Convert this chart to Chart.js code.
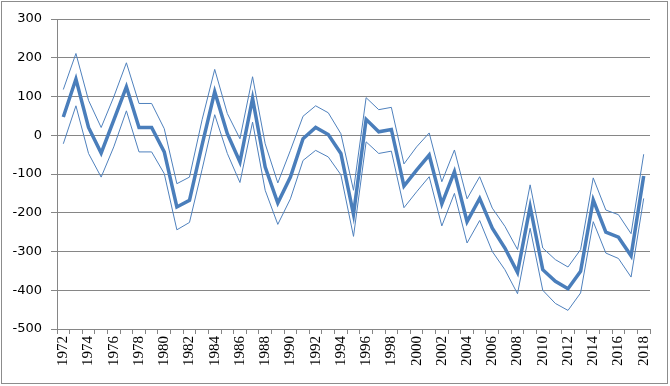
<!DOCTYPE html>
<html>
<head>
<meta charset="utf-8">
<script src="https://cdn.jsdelivr.net/npm/chart.js@4/dist/chart.umd.min.js"></script>
<style>
  html, body { margin: 0; padding: 0; background: #fff; }
  #wrap { width: 670px; height: 386px; position: relative; }
</style>
</head>
<body>
<div id="wrap"><canvas id="chart" width="670" height="386"></canvas></div>
<script>
// years on the x axis
var years = [1972, 1973, 1974, 1975, 1976, 1977, 1978, 1979, 1980, 1981,
             1982, 1983, 1984, 1985, 1986, 1987, 1988, 1989, 1990, 1991,
             1992, 1993, 1994, 1995, 1996, 1997, 1998, 1999, 2000, 2001,
             2002, 2003, 2004, 2005, 2006, 2007, 2008, 2009, 2010, 2011,
             2012, 2013, 2014, 2015, 2016, 2017, 2018];

// thick middle line
var mid = [47, 145, 20, -46, 39, 125, 20, 20, -43, -185,
           -168, -25, 112, 4, -69, 95, -82, -175, -108, -9,
           20, 2, -47, -204, 41, 9, 15, -131, -90, -51,
           -177, -94, -223, -163, -240, -291, -354, -184, -347, -377,
           -396, -351, -167, -250, -263, -311, -105];

// thin upper line
var upper = [118, 211, 90, 20, 99, 187, 82, 82, 17, -125,
             -108, 40, 170, 56, -9, 151, -22, -123, -39, 49,
             76, 58, 4, -142, 97, 66, 72, -74, -30, 6,
             -120, -38, -164, -107, -188, -235, -295, -128, -291, -321,
             -340, -295, -110, -193, -205, -254, -49];

// thin lower line
var lower = [-22, 76, -47, -108, -30, 63, -43, -43, -99, -244,
             -225, -88, 53, -47, -122, 34, -142, -230, -164, -65,
             -39, -56, -102, -261, -17, -47, -41, -187, -146, -107,
             -234, -150, -278, -220, -300, -347, -409, -240, -400, -434,
             -452, -407, -223, -304, -318, -366, -163];

var yTicks = [-500, -400, -300, -200, -100, 0, 100, 200, 300];

var gridGrey = '#868686';

// grey frame round the whole picture
var frame = {
  id: 'frame',
  afterDraw: function (c) {
    var ctx = c.ctx;
    ctx.save();
    ctx.strokeStyle = '#8c8c8c';
    ctx.lineWidth = 1;
    ctx.strokeRect(1.5, 1.5, 666, 382);
    ctx.restore();
  }
};

new Chart(document.getElementById('chart'), {
  type: 'line',
  data: {
    labels: years,
    datasets: [
      { data: upper, borderColor: '#4f81bd', borderWidth: 1, pointRadius: 0, tension: 0, fill: false },
      { data: lower, borderColor: '#4f81bd', borderWidth: 1, pointRadius: 0, tension: 0, fill: false },
      { data: mid, borderColor: '#4a7ebb', borderWidth: 3.5, pointRadius: 0, tension: 0, fill: false }
    ]
  },
  options: {
    responsive: false,
    animation: false,
    layout: { padding: { left: 0, top: 19, right: 20, bottom: 0 } },
    plugins: { legend: { display: false }, tooltip: { enabled: false } },
    scales: {
      x: {
        offset: true,
        grid: { offset: true, drawOnChartArea: false, color: gridGrey, tickLength: 5 },
        border: { color: gridGrey },
        ticks: {
          autoSkip: false,
          minRotation: 90,
          maxRotation: 90,
          padding: 2,
          color: '#000',
          font: { family: 'Liberation Serif', size: 15 },
          callback: function (v, i) { return i % 2 === 0 ? years[i] : ''; }
        },
        afterFit: function (s) { s.height = 57; }
      },
      y: {
        min: -500,
        max: 300,
        afterBuildTicks: function (s) { s.ticks = yTicks.map(function (v) { return { value: v }; }); },
        grid: { color: gridGrey, tickLength: 6 },
        border: { color: gridGrey },
        ticks: {
          color: '#000',
          padding: 9,
          font: { family: 'DejaVu Sans', size: 13 }
        },
        afterFit: function (s) { s.width = 57; }
      }
    }
  },
  plugins: [frame]
});
</script>
</body>
</html>
